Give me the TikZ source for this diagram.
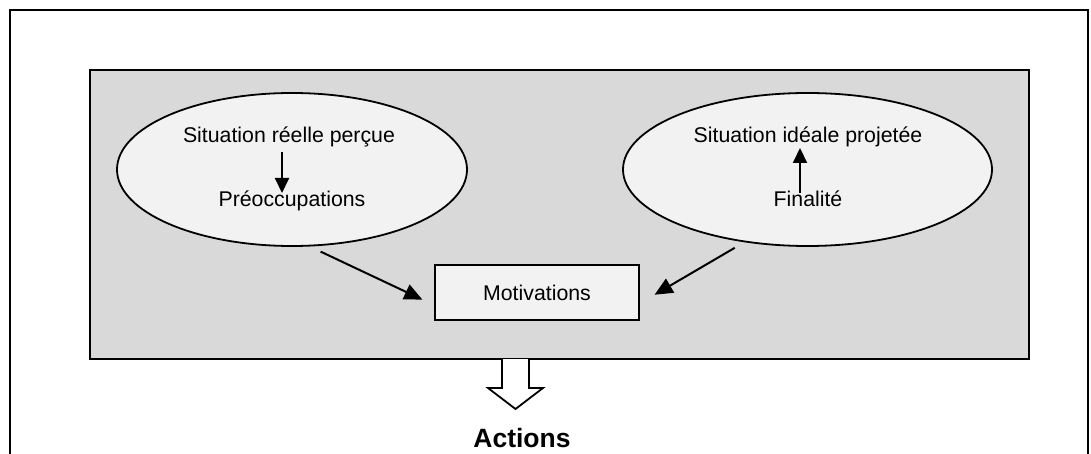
\documentclass[tikz,border=0pt]{standalone}
\usepackage{fontspec}
\setmainfont{Liberation Sans}
\usetikzlibrary{shapes.geometric,arrows.meta}
\definecolor{panelgrey}{RGB}{217,217,217}
\definecolor{bubblegrey}{RGB}{242,242,242}

\begin{document}
\begin{tikzpicture}[x=1pt, y=-1pt,
  every node/.style={font=\fontsize{21.3pt}{25pt}\selectfont},
  bubble/.style={ellipse, draw=black, line width=1.8pt, fill=bubblegrey, minimum width=350pt, minimum height=153pt},
  conn/.style={line width=2pt, -{Triangle[width=16pt,length=18pt]}},
  inner/.style={line width=2pt, -{Triangle[width=14pt,length=15pt]}}]

\useasboundingbox (0,0) rectangle (1091,454);
\draw[line width=2.5pt] (10,454) -- (10,10) -- (1088,10) -- (1088,454);

\node (panel) [rectangle, draw=black, line width=2.5pt, fill=panelgrey, minimum width=939pt, minimum height=289pt] at (559.5,214.5) {};

\node (lell) [bubble] at (292,169.5) {};
\node (rell) [bubble, minimum width=369pt] at (807.5,169.5) {};

\node (reel) [anchor=base] at (289,142.5) {Situation réelle perçue};
\node (preo) [anchor=base] at (292,206.5) {Préoccupations};
\node (ideal) [anchor=base] at (808,142.5) {Situation idéale projetée};
\node (fin) [anchor=base] at (808,206.5) {Finalité};

\node (motiv) [rectangle, draw=black, line width=1.8pt, fill=bubblegrey, minimum width=204pt, minimum height=55pt] at (537,292.5) {Motivations};

\node (act) [font=\bfseries\fontsize{26.5pt}{30pt}\selectfont] at (522,438) {Actions};

\draw[inner] ([shift={(-7,9.5)}]reel.base) -- ([shift={(-10,-13.5)}]preo.base);
\draw[inner] ([shift={(-8,-13.5)}]fin.base) -- ([shift={(-8,5.5)}]ideal.base);

\draw[conn, shorten <=12pt, shorten >=13pt] (lell.-77) -- (motiv.187);
\draw[conn, shorten <=11pt, shorten >=17pt] (rell.-131) -- (motiv.-6);

% block arrow down to the actions
\draw[line width=1.8pt, fill=white] (502,359) -- (502,388) -- (488,388) -- (515.5,409) -- (543,388) -- (529,388) -- (529,359);

\end{tikzpicture}
\end{document}
